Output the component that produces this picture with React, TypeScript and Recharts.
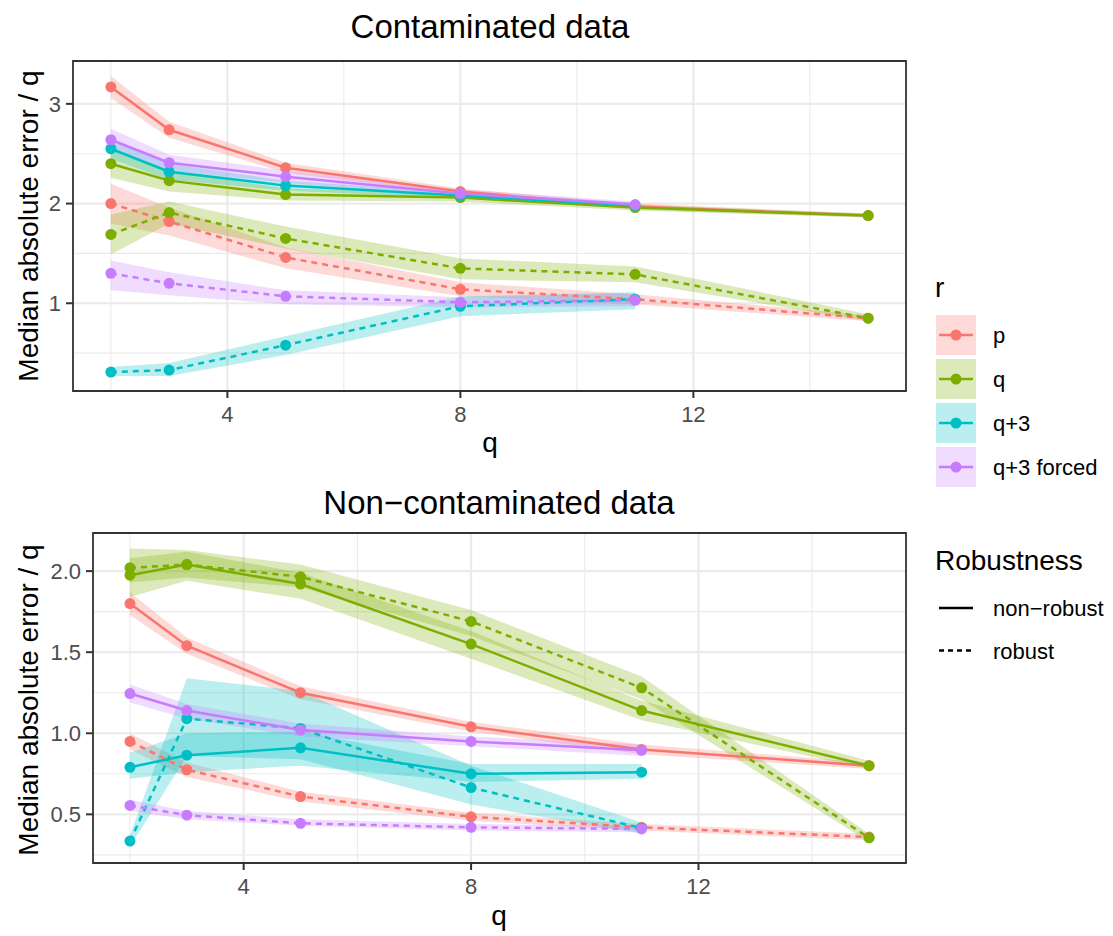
import {
  Area,
  CartesianGrid,
  ComposedChart,
  Line,
  ReferenceArea,
  XAxis,
  YAxis,
} from 'recharts'

const FONT = '"Liberation Sans", Arial, Helvetica, sans-serif'

const R_LEVELS = ['p', 'q', 'q+3', 'q+3 forced']
const R_COLORS = ['#F8766D', '#7CAE00', '#00BFC4', '#C77CFF']
const ROBUSTNESS = ['non\u2212robust', 'robust']

const qValues = [2, 3, 5, 8, 11, 15]
const xTicks = [4, 8, 12]
const xMinor = [2, 6, 10, 14]

// Contaminated data: median, lower and upper band per r and robustness
const cP_N = [3.17, 2.74, 2.36, 2.12, 1.97, 1.88]
const cP_N_lo = [3.06, 2.66, 2.31, 2.09, 1.94, 1.86]
const cP_N_hi = [3.28, 2.82, 2.41, 2.15, 2.0, 1.9]
const cQ_N = [2.4, 2.23, 2.09, 2.06, 1.96, 1.88]
const cQ_N_lo = [2.26, 2.12, 2.03, 2.02, 1.93, 1.86]
const cQ_N_hi = [2.54, 2.33, 2.15, 2.1, 1.99, 1.9]
const cQ3_N = [2.55, 2.32, 2.18, 2.08, 1.98]
const cQ3_N_lo = [2.45, 2.24, 2.13, 2.05, 1.95]
const cQ3_N_hi = [2.65, 2.4, 2.23, 2.11, 2.01]
const cQ3F_N = [2.64, 2.41, 2.27, 2.1, 1.99]
const cQ3F_N_lo = [2.53, 2.33, 2.21, 2.06, 1.96]
const cQ3F_N_hi = [2.75, 2.49, 2.33, 2.14, 2.02]

const cP_R = [2.0, 1.82, 1.46, 1.14, 1.04, 0.85]
const cP_R_lo = [1.8, 1.68, 1.35, 1.07, 0.99, 0.82]
const cP_R_hi = [2.2, 1.96, 1.56, 1.21, 1.09, 0.88]
const cQ_R = [1.69, 1.91, 1.65, 1.35, 1.29, 0.85]
const cQ_R_lo = [1.49, 1.8, 1.55, 1.24, 1.21, 0.82]
const cQ_R_hi = [1.89, 2.02, 1.77, 1.45, 1.37, 0.89]
const cQ3_R = [0.31, 0.33, 0.58, 0.97, 1.04]
const cQ3_R_lo = [0.27, 0.27, 0.48, 0.87, 0.94]
const cQ3_R_hi = [0.36, 0.4, 0.67, 1.07, 1.11]
const cQ3F_R = [1.3, 1.2, 1.07, 1.01, 1.03]
const cQ3F_R_lo = [1.13, 1.08, 0.99, 0.96, 0.97]
const cQ3F_R_hi = [1.43, 1.31, 1.13, 1.06, 1.1]

// Non-contaminated data
const nP_N = [1.8, 1.54, 1.25, 1.04, 0.9, 0.8]
const nP_N_lo = [1.73, 1.49, 1.21, 1.01, 0.87, 0.78]
const nP_N_hi = [1.87, 1.59, 1.29, 1.07, 0.93, 0.82]
const nQ_N = [1.975, 2.04, 1.92, 1.55, 1.14, 0.8]
const nQ_N_lo = [1.84, 1.94, 1.83, 1.46, 1.08, 0.78]
const nQ_N_hi = [2.08, 2.12, 1.99, 1.63, 1.2, 0.83]
const nQ3_N = [0.79, 0.865, 0.91, 0.75, 0.76]
const nQ3_N_lo = [0.72, 0.76, 0.8, 0.7, 0.72]
const nQ3_N_hi = [0.88, 1.0, 1.01, 0.81, 0.81]
const nQ3F_N = [1.245, 1.14, 1.02, 0.95, 0.895]
const nQ3F_N_lo = [1.19, 1.09, 0.98, 0.92, 0.86]
const nQ3F_N_hi = [1.3, 1.18, 1.06, 0.98, 0.93]

const nP_R = [0.95, 0.775, 0.61, 0.485, 0.42, 0.36]
const nP_R_lo = [0.9, 0.73, 0.58, 0.46, 0.4, 0.34]
const nP_R_hi = [1.0, 0.82, 0.64, 0.51, 0.44, 0.38]
const nQ_R = [2.02, 2.04, 1.965, 1.69, 1.28, 0.355]
const nQ_R_lo = [1.93, 1.96, 1.9, 1.6, 1.21, 0.33]
const nQ_R_hi = [2.14, 2.13, 2.04, 1.76, 1.35, 0.38]
const nQ3_R = [0.335, 1.09, 1.03, 0.665, 0.415]
const nQ3_R_lo = [0.3, 0.86, 0.84, 0.56, 0.38]
const nQ3_R_hi = [0.37, 1.34, 1.26, 0.8, 0.45]
const nQ3F_R = [0.555, 0.495, 0.445, 0.42, 0.41]
const nQ3F_R_lo = [0.52, 0.47, 0.43, 0.4, 0.39]
const nQ3F_R_hi = [0.59, 0.52, 0.47, 0.44, 0.43]

interface Series {
  key: string
  color: string
  dashed: boolean
  mid: number[]
  lo: number[]
  hi: number[]
}

// group order as ggplot draws it: r level, then robustness
const contSeries: Series[] = [
  { key: 'pN', color: R_COLORS[0], dashed: false, mid: cP_N, lo: cP_N_lo, hi: cP_N_hi },
  { key: 'pR', color: R_COLORS[0], dashed: true, mid: cP_R, lo: cP_R_lo, hi: cP_R_hi },
  { key: 'qN', color: R_COLORS[1], dashed: false, mid: cQ_N, lo: cQ_N_lo, hi: cQ_N_hi },
  { key: 'qR', color: R_COLORS[1], dashed: true, mid: cQ_R, lo: cQ_R_lo, hi: cQ_R_hi },
  { key: 'q3N', color: R_COLORS[2], dashed: false, mid: cQ3_N, lo: cQ3_N_lo, hi: cQ3_N_hi },
  { key: 'q3R', color: R_COLORS[2], dashed: true, mid: cQ3_R, lo: cQ3_R_lo, hi: cQ3_R_hi },
  { key: 'q3fN', color: R_COLORS[3], dashed: false, mid: cQ3F_N, lo: cQ3F_N_lo, hi: cQ3F_N_hi },
  { key: 'q3fR', color: R_COLORS[3], dashed: true, mid: cQ3F_R, lo: cQ3F_R_lo, hi: cQ3F_R_hi },
]

const nonContSeries: Series[] = [
  { key: 'pN', color: R_COLORS[0], dashed: false, mid: nP_N, lo: nP_N_lo, hi: nP_N_hi },
  { key: 'pR', color: R_COLORS[0], dashed: true, mid: nP_R, lo: nP_R_lo, hi: nP_R_hi },
  { key: 'qN', color: R_COLORS[1], dashed: false, mid: nQ_N, lo: nQ_N_lo, hi: nQ_N_hi },
  { key: 'qR', color: R_COLORS[1], dashed: true, mid: nQ_R, lo: nQ_R_lo, hi: nQ_R_hi },
  { key: 'q3N', color: R_COLORS[2], dashed: false, mid: nQ3_N, lo: nQ3_N_lo, hi: nQ3_N_hi },
  { key: 'q3R', color: R_COLORS[2], dashed: true, mid: nQ3_R, lo: nQ3_R_lo, hi: nQ3_R_hi },
  { key: 'q3fN', color: R_COLORS[3], dashed: false, mid: nQ3F_N, lo: nQ3F_N_lo, hi: nQ3F_N_hi },
  { key: 'q3fR', color: R_COLORS[3], dashed: true, mid: nQ3F_R, lo: nQ3F_R_lo, hi: nQ3F_R_hi },
]

function buildRows(series: Series[]) {
  return qValues.map((q, i) => {
    const row: Record<string, unknown> = { q }
    series.forEach((s) => {
      if (i < s.mid.length) {
        row[s.key] = s.mid[i]
        row[s.key + '_band'] = [s.lo[i], s.hi[i]]
      }
    })
    return row
  })
}

const X_DOMAIN: [number, number] = [1.35, 15.65]
const TICK = { fontSize: 22, fill: '#4D4D4D', fontFamily: FONT }
const GRID = '#EBEBEB'
const RIBBON_ALPHA = 0.27
const LINE_W = 2.5
const DASH = '6 5'
const DOT_R = 5.5

interface PanelProps {
  series: Series[]
  yDomain: [number, number]
  yTicks: number[]
  yMinor: number[]
  yWidth: number
  top: number
  height: number
  xHeight: number
  fmt?: (v: number) => string
}

function Panel({ series, yDomain, yTicks, yMinor, yWidth, top, height, xHeight, fmt }: PanelProps) {
  const rows = buildRows(series)
  return (
    <ComposedChart width={916} height={height} data={rows} margin={{ top, right: 10, left: 0, bottom: 0 }}>
      <CartesianGrid horizontalValues={yMinor} verticalValues={xMinor} stroke={GRID} strokeWidth={1.1} />
      <CartesianGrid horizontalValues={yTicks} verticalValues={xTicks} stroke={GRID} strokeWidth={2.2} />
      <XAxis
        dataKey="q"
        type="number"
        domain={X_DOMAIN}
        ticks={xTicks}
        allowDataOverflow
        height={xHeight}
        tick={TICK}
        tickSize={7}
        tickMargin={8}
        axisLine={false}
        tickLine={{ stroke: '#333333', strokeWidth: 2 }}
      />
      <YAxis
        type="number"
        domain={yDomain}
        ticks={yTicks}
        allowDataOverflow
        width={yWidth}
        tick={TICK}
        tickSize={7}
        tickMargin={5}
        tickFormatter={fmt}
        axisLine={false}
        tickLine={{ stroke: '#333333', strokeWidth: 2 }}
      />
      {series.map((s) => (
        <Area
          key={s.key + '_a'}
          type="linear"
          dataKey={s.key + '_band'}
          stroke="none"
          fill={s.color}
          fillOpacity={RIBBON_ALPHA}
          isAnimationActive={false}
          activeDot={false}
        />
      ))}
      {series.map((s) => (
        <Line
          key={s.key + '_l'}
          type="linear"
          dataKey={s.key}
          stroke={s.color}
          strokeWidth={LINE_W}
          strokeDasharray={s.dashed ? DASH : undefined}
          dot={false}
          activeDot={false}
          isAnimationActive={false}
        />
      ))}
      {series.map((s) => (
        <Line
          key={s.key + '_p'}
          type="linear"
          dataKey={s.key}
          stroke="none"
          dot={{ r: DOT_R, fill: s.color, stroke: 'none' }}
          activeDot={false}
          isAnimationActive={false}
        />
      ))}
      <ReferenceArea
        x1={X_DOMAIN[0]}
        x2={X_DOMAIN[1]}
        y1={yDomain[0]}
        y2={yDomain[1]}
        fill="none"
        stroke="#333333"
        strokeWidth={1.8}
        ifOverflow="visible"
      />
    </ComposedChart>
  )
}

function Overlay() {
  const t = { fontFamily: FONT, fill: '#000000' }
  return (
    <svg width={1113} height={936} style={{ position: 'absolute', left: 0, top: 0, pointerEvents: 'none' }}>
      <text x={490} y={38} textAnchor="middle" fontSize={33} {...t}>Contaminated data</text>
      <text x={499} y={514} textAnchor="middle" fontSize={33} {...t}>Non{'\u2212'}contaminated data</text>

      <text transform="translate(38,226) rotate(-90)" textAnchor="middle" fontSize={28} {...t}>Median absolute error / q</text>
      <text transform="translate(38,700) rotate(-90)" textAnchor="middle" fontSize={28} {...t}>Median absolute error / q</text>
      <text x={490} y={452} textAnchor="middle" fontSize={28} {...t}>q</text>
      <text x={499} y={925} textAnchor="middle" fontSize={28} {...t}>q</text>

      <text x={935} y={297} fontSize={28} {...t}>r</text>
      {R_LEVELS.map((name, i) => {
        const cy = 335 + i * 44
        return (
          <g key={name}>
            <rect x={936} y={cy - 20} width={40} height={40} fill={R_COLORS[i]} fillOpacity={RIBBON_ALPHA} />
            <line x1={939} x2={973} y1={cy} y2={cy} stroke={R_COLORS[i]} strokeWidth={LINE_W} />
            <circle cx={956} cy={cy} r={DOT_R} fill={R_COLORS[i]} />
            <text x={993} y={cy + 8} fontSize={22} {...t}>{name}</text>
          </g>
        )
      })}

      <text x={935} y={570} fontSize={28} {...t}>Robustness</text>
      {ROBUSTNESS.map((name, i) => {
        const cy = 608 + i * 42.5
        return (
          <g key={name}>
            <line
              x1={939}
              x2={973}
              y1={cy}
              y2={cy}
              stroke="#000000"
              strokeWidth={LINE_W}
              strokeDasharray={i === 1 ? '5 4' : undefined}
            />
            <text x={993} y={cy + 8} fontSize={22} {...t}>{name}</text>
          </g>
        )
      })}
    </svg>
  )
}

export default function App() {
  return (
    <div style={{ position: 'absolute', left: 0, top: 0, width: 1113, height: 936, background: '#ffffff' }}>
      <div style={{ position: 'absolute', left: 0, top: 0 }}>
        <Panel
          series={contSeries}
          yDomain={[0.12, 3.43]}
          yTicks={[1, 2, 3]}
          yMinor={[0.5, 1.5, 2.5]}
          yWidth={73}
          top={61}
          height={470}
          xHeight={79}
        />
      </div>
      <div style={{ position: 'absolute', left: 0, top: 470 }}>
        <Panel
          series={nonContSeries}
          yDomain={[0.2, 2.235]}
          yTicks={[0.5, 1, 1.5, 2]}
          yMinor={[0.25, 0.75, 1.25, 1.75]}
          yWidth={93}
          top={63}
          height={466}
          xHeight={73}
          fmt={(v: number) => v.toFixed(1)}
        />
      </div>
      <Overlay />
    </div>
  )
}
